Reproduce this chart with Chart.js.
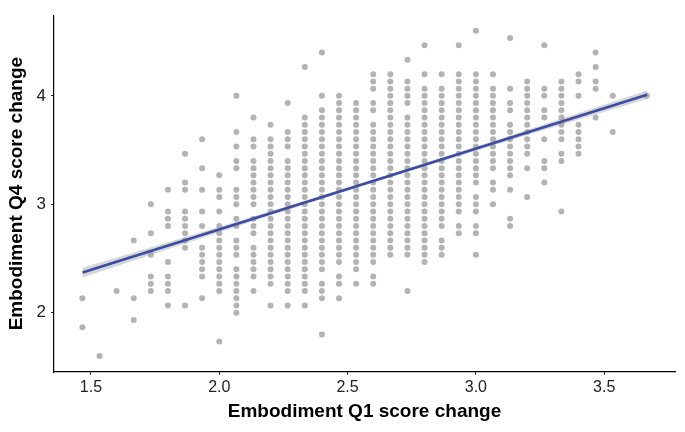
<!DOCTYPE html>
<html>
<head>
<meta charset="utf-8">
<script src="https://cdn.jsdelivr.net/npm/chart.js@4.4.0/dist/chart.umd.min.js"></script>
<style>
  html, body { margin: 0; padding: 0; background: #fff; }
  canvas { display: block; }
</style>
</head>
<body>
<canvas id="scatter" width="685" height="432"></canvas>
<script>
// scores sit on a grid of fifteenths, so values are kept as numerators
var GRID = 15;

// x numerator of each column of dots
var colX = [22, 23, 24, 25, 26, 27, 28, 29, 30, 31, 32, 33, 34, 35, 36, 37, 38,
  39, 40, 41, 42, 43, 44, 45, 46, 47, 48, 49, 50, 51, 52, 53, 55];

// y numerators of the dots in each column
var colY = [
  [32, 28],
  [24],
  [33],
  [40, 32, 29],
  [45, 41, 38, 35, 34, 33],
  [47, 44, 43, 42, 37, 35, 34, 33, 31],
  [52, 48, 47, 44, 43, 42, 41, 40, 39, 31],
  [54, 50, 47, 44, 42, 39, 38, 37, 36, 35, 32],
  [49, 47, 46, 44, 42, 41, 40, 39, 38, 37, 36, 35, 34, 33, 26],
  [60, 55, 53, 51, 50, 47, 46, 45, 43, 42, 40, 39, 38, 36, 35, 34, 33, 32, 31, 30],
  [57, 54, 53, 51, 50, 49, 48, 47, 46, 45, 43, 42, 41, 39, 38, 37, 36, 35, 33],
  [56, 54, 53, 52, 51, 50, 49, 48, 47, 46, 45, 44, 43, 42, 41, 40, 39, 38, 37, 36, 35, 34, 31],
  [59, 55, 54, 53, 51, 50, 49, 48, 47, 46, 45, 44, 43, 42, 41, 40, 39, 38, 37, 36, 35, 34, 33, 31],
  [64, 57, 56, 55, 54, 53, 52, 51, 50, 49, 48, 47, 46, 45, 44, 43, 42, 41, 40, 39, 38, 37, 36, 35, 34, 33, 31],
  [66, 60, 58, 57, 56, 55, 54, 53, 52, 51, 50, 49, 48, 47, 46, 45, 44, 43, 42, 41, 40, 39, 38, 37, 36, 34, 33, 32, 27],
  [60, 59, 58, 57, 56, 55, 54, 53, 52, 51, 50, 49, 48, 47, 46, 45, 44, 43, 42, 41, 40, 39, 38, 37, 35, 34, 32],
  [59, 58, 57, 56, 55, 54, 53, 52, 51, 50, 49, 48, 47, 46, 45, 44, 43, 42, 41, 40, 39, 38, 37, 36, 34],
  [63, 62, 61, 59, 58, 56, 55, 54, 53, 52, 51, 50, 49, 48, 47, 46, 45, 44, 43, 42, 41, 40, 39, 38, 37, 35, 34],
  [63, 62, 61, 60, 59, 58, 57, 56, 55, 54, 53, 52, 51, 50, 49, 48, 47, 46, 45, 44, 43, 42, 41, 40, 39, 38],
  [65, 62, 61, 60, 59, 57, 56, 55, 54, 53, 52, 51, 50, 49, 48, 47, 46, 45, 44, 43, 42, 41, 40, 39, 38, 33],
  [67, 63, 61, 60, 59, 58, 57, 56, 55, 54, 53, 52, 51, 50, 49, 48, 47, 46, 45, 44, 43, 42, 41, 40, 39, 38, 37],
  [63, 61, 60, 59, 58, 57, 56, 55, 54, 53, 52, 51, 50, 49, 48, 47, 46, 45, 44, 43, 42, 40, 39, 38],
  [67, 63, 62, 61, 60, 59, 58, 57, 56, 55, 54, 53, 52, 51, 50, 49, 48, 47, 46, 45, 44, 42, 41],
  [69, 63, 62, 61, 60, 59, 58, 57, 56, 55, 54, 53, 52, 51, 50, 49, 48, 46, 45, 44, 42, 41, 38],
  [63, 61, 60, 59, 58, 57, 56, 55, 54, 53, 52, 51, 50, 48, 47, 45],
  [68, 61, 59, 58, 56, 55, 54, 53, 52, 51, 50, 49, 47, 43, 42],
  [62, 61, 60, 59, 58, 57, 56, 55, 54, 53, 52, 50, 46],
  [67, 61, 60, 58, 57, 54, 51, 50, 48],
  [62, 61, 60, 59, 58, 57, 56, 55, 54, 52, 51, 44],
  [63, 62, 60, 56, 55, 54, 53, 52],
  [66, 64, 62, 61, 57],
  [60, 55],
  [60]
];

// fitted line ends and its confidence ribbon (half widths)
var fitX = [1.467, 3.667];
var fitY = [2.37, 4.01];
var bandX = [1.467, 1.8, 2.1, 2.4, 2.7, 3.0, 3.3, 3.667];
var bandHalf = [0.045, 0.032, 0.022, 0.016, 0.015, 0.018, 0.027, 0.04];

var xTicks = [1.5, 2.0, 2.5, 3.0, 3.5];
var yTicks = [2, 3, 4];

var dots = [];
colX.forEach(function (cx, i) {
  colY[i].forEach(function (cy) {
    dots.push({ x: cx / GRID, y: cy / GRID });
  });
});

function fitAt(x) {
  var t = (x - fitX[0]) / (fitX[1] - fitX[0]);
  return fitY[0] + t * (fitY[1] - fitY[0]);
}
var bandHi = bandX.map(function (x, i) { return { x: x, y: fitAt(x) + bandHalf[i] }; });
var bandLo = bandX.map(function (x, i) { return { x: x, y: fitAt(x) - bandHalf[i] }; });

var ctx = document.getElementById('scatter').getContext('2d');
var chart = new Chart(ctx, {
  type: 'scatter',
  data: {
    datasets: [{
      label: 'band high',
      data: bandHi,
      showLine: true,
      fill: '+1',
      borderWidth: 0,
      pointRadius: 0,
      backgroundColor: 'rgba(153,153,153,0.4)',
      order: 2
    }, {
      label: 'band low',
      data: bandLo,
      showLine: true,
      fill: false,
      borderWidth: 0,
      pointRadius: 0,
      order: 2
    }, {
      label: 'fit',
      data: fitX.map(function (x, i) { return { x: x, y: fitY[i] }; }),
      showLine: true,
      borderColor: '#3a4ca6',
      borderWidth: 2.6,
      pointRadius: 0,
      order: 1
    }, {
      label: 'dots',
      data: dots,
      pointRadius: 3,
      pointBorderWidth: 0,
      pointBackgroundColor: '#b3b3b3',
      order: 3
    }]
  },
  options: {
    responsive: false,
    animation: false,
    devicePixelRatio: 1,
    layout: { padding: { top: 12, right: 10, left: 0, bottom: 0 } },
    plugins: { legend: { display: false }, tooltip: { enabled: false } },
    scales: {
      x: {
        type: 'linear',
        min: 1.356,
        max: 3.776,
        afterBuildTicks: function (s) { s.ticks = xTicks.map(function (v) { return { value: v }; }); },
        afterFit: function (s) { s.height = 60; },
        grid: { drawOnChartArea: false, tickLength: 3, color: '#333', tickWidth: 1 },
        border: { display: true, color: '#000', width: 1.2 },
        ticks: {
          padding: 3,
          color: '#222',
          font: { family: 'Liberation Sans', size: 16 },
          callback: function (v) { return v.toFixed(1); }
        },
        title: {
          display: true,
          text: 'Embodiment Q1 score change',
          color: '#000',
          font: { family: 'Liberation Sans', size: 19, weight: 'bold' },
          padding: { top: 2, bottom: 9 }
        }
      },
      y: {
        type: 'linear',
        min: 1.453,
        max: 4.744,
        afterBuildTicks: function (s) { s.ticks = yTicks.map(function (v) { return { value: v }; }); },
        afterFit: function (s) { s.width = 54; },
        grid: { drawOnChartArea: false, tickLength: 3, color: '#333', tickWidth: 1 },
        border: { display: true, color: '#000', width: 1.2 },
        ticks: {
          padding: 5,
          color: '#222',
          font: { family: 'Liberation Sans', size: 17 },
          callback: function (v) { return String(v); }
        },
        title: {
          display: true,
          text: 'Embodiment Q4 score change',
          color: '#000',
          font: { family: 'Liberation Sans', size: 19, weight: 'bold' },
          padding: { top: 5, bottom: 2 }
        }
      }
    }
  }
});
</script>
</body>
</html>
